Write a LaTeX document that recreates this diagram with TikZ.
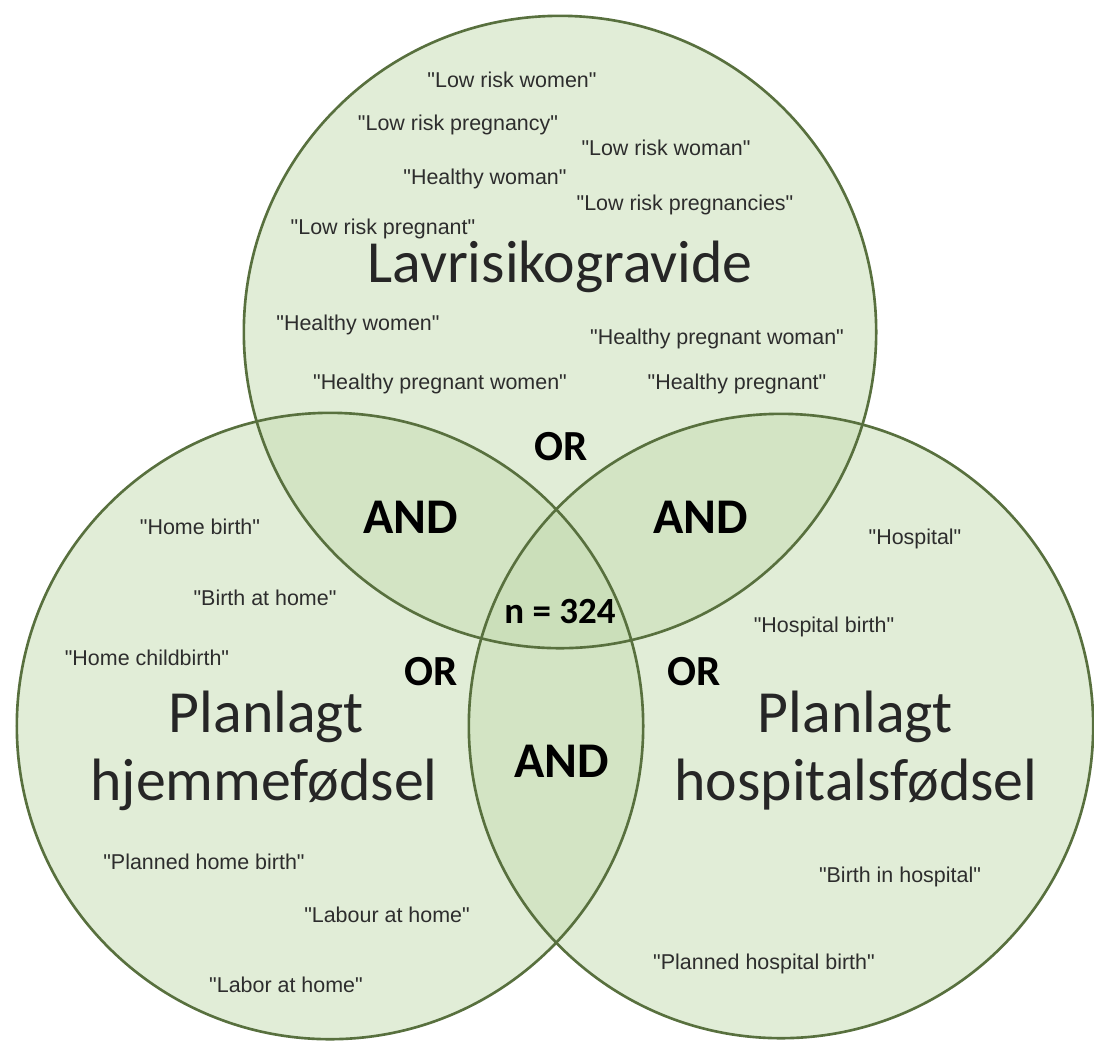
\documentclass[tikz,border=0pt]{standalone}
\usepackage{fontspec}
\setmainfont{Carlito}
\newfontfamily\quotefont{Liberation Sans}
\definecolor{venngreen}{RGB}{196,219,176}
\definecolor{venndark}{RGB}{88,112,62}
\definecolor{termgray}{RGB}{45,45,45}
\tikzset{
  term/.style={font=\quotefont\fontsize{6.1}{7}\selectfont, text=termgray, inner sep=0pt, anchor=base},
  setname/.style={font=\fontsize{17}{19}\selectfont, text=black!85, inner sep=0pt, anchor=base},
  andword/.style={font=\bfseries\fontsize{14.2}{16}\selectfont, inner sep=0pt, anchor=base},
  orword/.style={font=\bfseries\fontsize{12.2}{14}\selectfont, inner sep=0pt, anchor=base},
  setcircle/.style={fill=venngreen, fill opacity=0.5}
}
\begin{document}
\begin{tikzpicture}[x=0.01cm,y=-0.01cm]
      \useasboundingbox (0,0) rectangle (1094,1041);
      % the three sets
      \fill[setcircle] (560,332) circle[radius=3.16cm];
      \fill[setcircle] (330,726) circle[radius=3.13cm];
      \fill[setcircle] (781,726) circle[radius=3.12cm];
      \begin{scope}[venndark, line width=0.75pt]
        \draw (560,332) circle[radius=3.16cm];
        \draw (330,726) circle[radius=3.13cm];
        \draw (781,726) circle[radius=3.12cm];
      \end{scope}
      % set names
      \draw
        (560,282) node[setname] (lav){Lavrisikogravide}
        (266,732) node[setname] (home1){Planlagt}
        (264,800) node[setname] (home2){hjemmefødsel}
        (855,732) node[setname] (hosp1){Planlagt}
        (856,800) node[setname] (hosp2){hospitalsfødsel};
      % operators
      \draw
        (411,533) node[andword] (and1){AND}
        (701,533) node[andword] (and2){AND}
        (562,777) node[andword] (and3){AND}
        (561,460) node[orword] (or1){OR}
        (431,685) node[orword] (or2){OR}
        (694,685) node[orword] (or3){OR}
        (560,623) node[orword, font=\bfseries\fontsize{10.5}{12}\selectfont] (n){n = 324};
      % search terms
      \begin{scope}[every node/.append style=term]
        \draw
          (512,87) node (lav1){"Low risk women"}
          (458,130) node (lav2){"Low risk pregnancy"}
          (666,155) node (lav3){"Low risk woman"}
          (485,184) node (lav4){"Healthy woman"}
          (685,210) node (lav5){"Low risk pregnancies"}
          (383,234) node (lav6){"Low risk pregnant"}
          (358,330) node (lav7){"Healthy women"}
          (717,344) node (lav8){"Healthy pregnant woman"}
          (440,389) node (lav9){"Healthy pregnant women"}
          (737,389) node (lav10){"Healthy pregnant"};
        \draw
          (200,534) node (home3){"Home birth"}
          (265,605) node (home4){"Birth at home"}
          (147,665) node (home5){"Home childbirth"}
          (204,869) node (home6){"Planned home birth"}
          (387,922) node (home7){"Labour at home"}
          (286,992) node (home8){"Labor at home"};
        \draw
          (915,544) node (hosp3){"Hospital"}
          (824,632) node (hosp4){"Hospital birth"}
          (900,882) node (hosp5){"Birth in hospital"}
          (764,969) node (hosp6){"Planned hospital birth"};
      \end{scope}
    \end{tikzpicture}
\end{document}
